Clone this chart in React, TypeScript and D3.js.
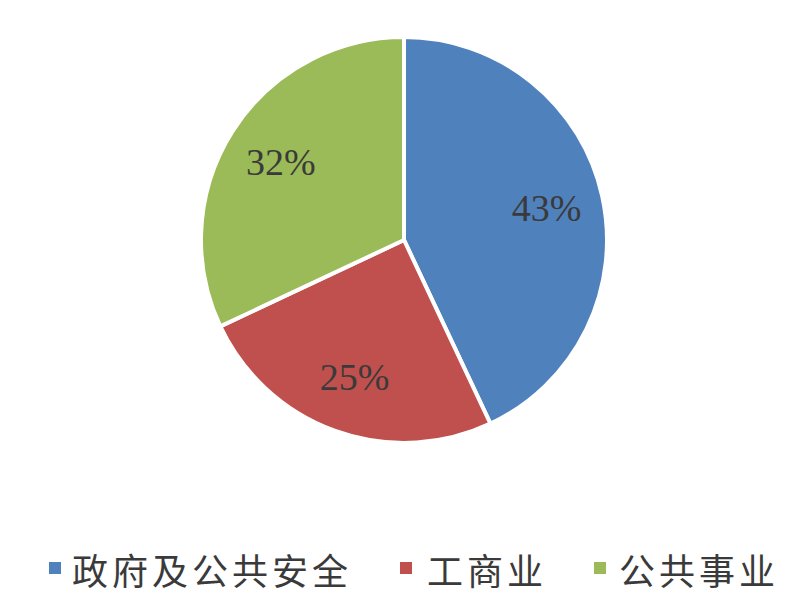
import React from "react";
import * as d3 from "d3";

const categories = ["政府及公共安全", "工商业", "公共事业"];
const values = [43, 25, 32];
const labels = ["43%", "25%", "32%"];
const colors = ["#4F81BD", "#C0504D", "#9BBB59"];

const W = 800;
const H = 602;
const cx = 404;
const cy = 240;
const R = 203;
const labelR = 146;
const legendY = 569;
const legendSquareX = [49, 400, 594];
const legendTextX = [72, 427, 619];

export default function App() {
  const pie = d3
    .pie<number>()
    .sort(null)
    .value((d) => d);
  const arcs = pie(values);
  const arc = d3.arc<d3.PieArcDatum<number>>().innerRadius(0).outerRadius(R);
  const labelArc = d3
    .arc<d3.PieArcDatum<number>>()
    .innerRadius(labelR)
    .outerRadius(labelR);

  return (
    <svg
      width={W}
      height={H}
      style={{ position: "absolute", left: 0, top: 0, background: "#fff" }}
    >
      <rect x={0} y={0} width={W} height={H} fill="#fff" />
      <g transform={`translate(${cx},${cy})`}>
        {arcs.map((a, i) => (
          <path
            key={i}
            d={arc(a) || ""}
            fill={colors[i]}
            stroke="#fff"
            strokeWidth={4}
            strokeLinejoin="miter"
          />
        ))}
        {arcs.map((a, i) => {
          const [x, y] = labelArc.centroid(a);
          return (
            <text
              key={i}
              x={x}
              y={y}
              textAnchor="middle"
              dominantBaseline="central"
              fontFamily="'Liberation Serif', 'Times New Roman', serif"
              fontSize={38}
              fill="#3a3a3a"
            >
              {labels[i]}
            </text>
          );
        })}
      </g>
      <g>
        {categories.map((c, i) => (
          <g key={c}>
            <rect
              x={legendSquareX[i]}
              y={legendY - 7}
              width={12}
              height={12}
              fill={colors[i]}
            />
            <text
              x={legendTextX[i]}
              y={legendY}
              dominantBaseline="central"
              fontFamily="'Noto Sans CJK SC', sans-serif"
              fontSize={36}
              letterSpacing={4}
              fill="#3a3a3a"
            >
              {c}
            </text>
          </g>
        ))}
      </g>
    </svg>
  );
}
